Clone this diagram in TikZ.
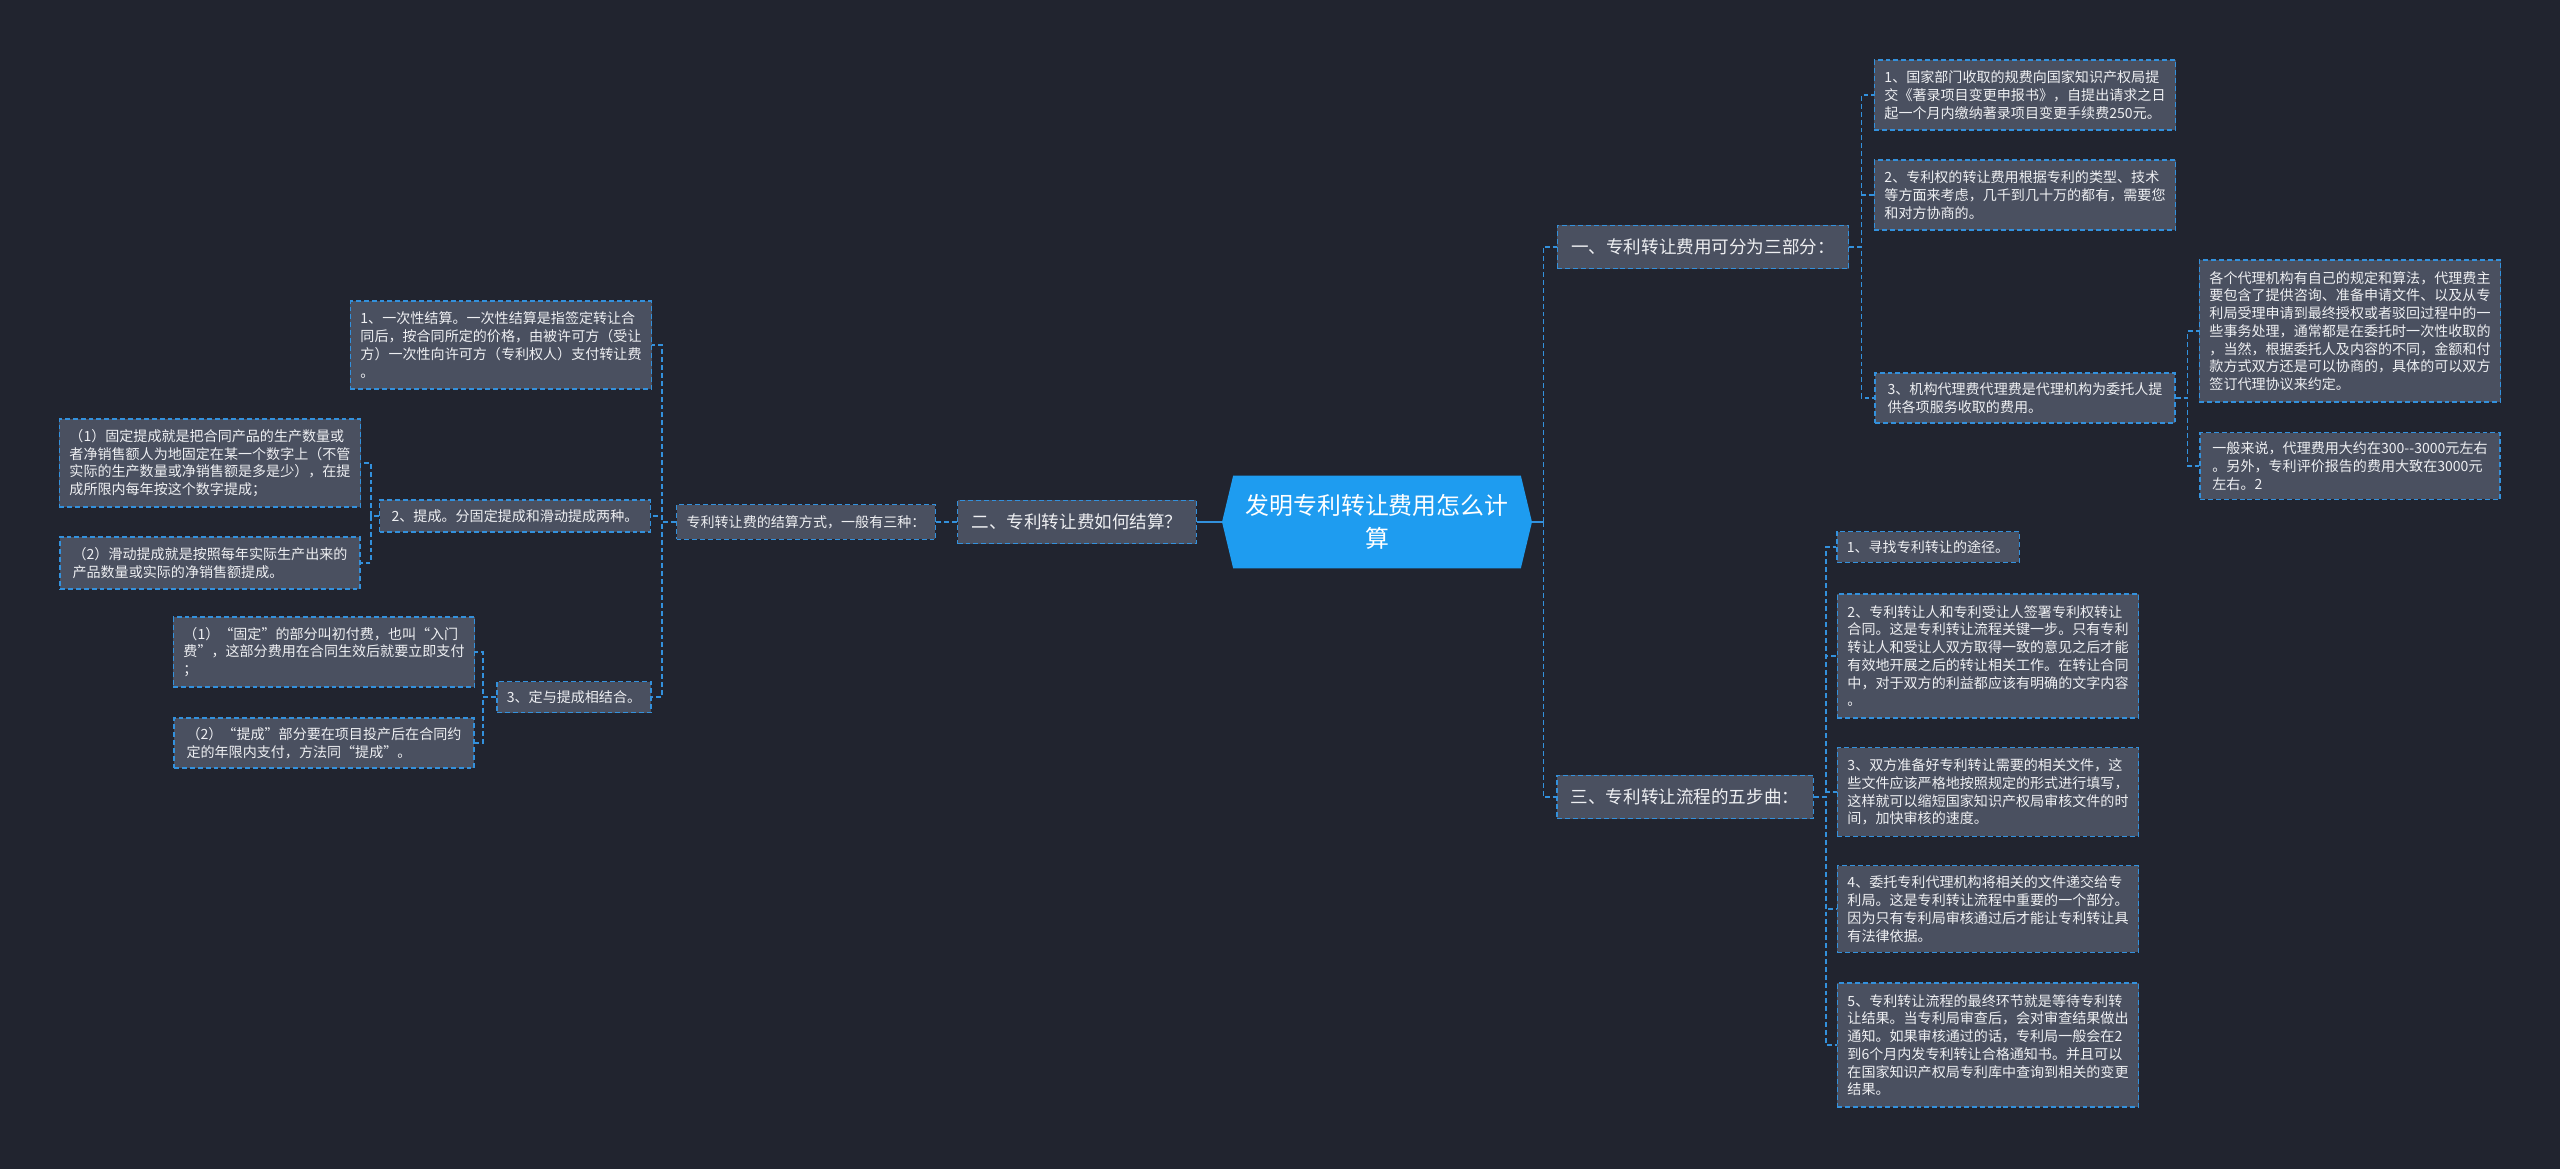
\documentclass[tikz,border=0pt]{standalone}
\usepackage{fontspec}
\usepackage{tikz}
\usetikzlibrary{shapes.symbols}
\newfontfamily\cjk{Noto Sans CJK SC}
\definecolor{bg}{HTML}{21242F}
\definecolor{boxfill}{HTML}{4A5060}
\definecolor{wire}{HTML}{3391DD}
\definecolor{rootfill}{HTML}{1E9CF0}
\definecolor{ink}{HTML}{EEEFF2}

\begin{document}
\begin{tikzpicture}[x=0.02cm,y=-0.02cm,
  leaf/.style={draw=wire,dash pattern=on 2.8pt off 1.7pt,line width=0.8pt,fill=boxfill,text=ink,
               font=\cjk\fontsize{8}{10.1}\selectfont,align=left,inner xsep=0.2cm,inner ysep=0.1cm},
  branch/.style={leaf,font=\cjk\fontsize{10}{12}\selectfont,inner xsep=0.28cm,minimum height=0.87cm},
  root/.style={shape=signal,signal to=west and east,signal pointer angle=153,fill=rootfill,text=white,
               font=\cjk\fontsize{13.6}{18.8}\selectfont,align=center,minimum width=6.2cm,minimum height=1.86cm},
  lnk/.style={wire,dash pattern=on 2.8pt off 1.7pt,line width=0.8pt},
  trunk/.style={wire,line width=1pt}
]
\fill[bg] (0,0) rectangle (2560,1169);

% center
\node[root] (root) at (1377,522) {发明专利转让费用怎么计\\算};

% right: three parts
\node[branch] (one) at (1703,247) {一、专利转让费用可分为三部分：};
\node[leaf,minimum width=6cm,minimum height=1.4cm] (c1) at (2025,95)
  {1、国家部门收取的规费向国家知识产权局提\\交《著录项目变更申报书》，自提出请求之日\\起一个月内缴纳著录项目变更手续费250元。};
\node[leaf,minimum width=6cm,minimum height=1.4cm] (c2) at (2025,195)
  {2、专利权的转让费用根据专利的类型、技术\\等方面来考虑，几千到几十万的都有，需要您\\和对方协商的。};
\node[leaf,minimum width=6cm,minimum height=1cm] (c3) at (2025,398)
  {3、机构代理费代理费是代理机构为委托人提\\供各项服务收取的费用。};
\node[leaf,minimum width=6cm,minimum height=2.84cm] (ca) at (2350,331)
  {各个代理机构有自己的规定和算法，代理费主\\要包含了提供咨询、准备申请文件、以及从专\\利局受理申请到最终授权或者驳回过程中的一\\些事务处理，通常都是在委托时一次性收取的\\，当然，根据委托人及内容的不同，金额和付\\款方式双方还是可以协商的，具体的可以双方\\签订代理协议来约定。};
\node[leaf,minimum width=6cm,minimum height=1.34cm] (cb) at (2350,466)
  {一般来说，代理费用大约在300-{}-3000元左右\\。另外，专利评价报告的费用大致在3000元\\左右。2};

% right: five steps
\node[branch] (three) at (1685,797) {三、专利转让流程的五步曲：};
\node[leaf,minimum width=3.6cm,minimum height=0.62cm] (s1) at (1928,547) {1、寻找专利转让的途径。};
\node[leaf,minimum width=6cm,minimum height=2.48cm] (s2) at (1988,656)
  {2、专利转让人和专利受让人签署专利权转让\\合同。这是专利转让流程关键一步。只有专利\\转让人和受让人双方取得一致的意见之后才能\\有效地开展之后的转让相关工作。在转让合同\\中，对于双方的利益都应该有明确的文字内容\\。};
\node[leaf,minimum width=6cm,minimum height=1.78cm] (s3) at (1988,792)
  {3、双方准备好专利转让需要的相关文件，这\\些文件应该严格地按照规定的形式进行填写，\\这样就可以缩短国家知识产权局审核文件的时\\间，加快审核的速度。};
\node[leaf,minimum width=6cm,minimum height=1.74cm] (s4) at (1988,909)
  {4、委托专利代理机构将相关的文件递交给专\\利局。这是专利转让流程中重要的一个部分。\\因为只有专利局审核通过后才能让专利转让具\\有法律依据。};
\node[leaf,minimum width=6cm,minimum height=2.48cm] (s5) at (1988,1045)
  {5、专利转让流程的最终环节就是等待专利转\\让结果。当专利局审查后，会对审查结果做出\\通知。如果审核通过的话，专利局一般会在2\\到6个月内发专利转让合格通知书。并且可以\\在国家知识产权局专利库中查询到相关的变更\\结果。};

% left: settlement
\node[branch] (two) at (1077,522) {二、专利转让费如何结算？};
\node[leaf,minimum width=5.16cm,minimum height=0.7cm] (mid) at (806,522) {专利转让费的结算方式，一般有三种：};
\node[leaf,minimum width=6.02cm,minimum height=1.76cm] (l1) at (501,345)
  {1、一次性结算。一次性结算是指签定转让合\\同后，按合同所定的价格，由被许可方（受让\\方）一次性向许可方（专利权人）支付转让费\\。};
\node[leaf,minimum width=5.42cm,minimum height=0.64cm] (l2) at (515,516) {2、提成。分固定提成和滑动提成两种。};
\node[leaf,minimum width=3.04cm,minimum height=0.62cm] (l3) at (574,697) {3、定与提成相结合。};
\node[leaf,minimum width=6cm,minimum height=1.76cm] (l2a) at (210,463)
  {（1）固定提成就是把合同产品的生产数量或\\者净销售额人为地固定在某一个数字上（不管\\实际的生产数量或净销售额是多是少），在提\\成所限内每年按这个数字提成；};
\node[leaf,minimum width=6cm,minimum height=1.04cm] (l2b) at (210,563)
  {（2）滑动提成就是按照每年实际生产出来的\\产品数量或实际的净销售额提成。};
\node[leaf,minimum width=6cm,minimum height=1.4cm] (l3a) at (324,652)
  {（1）“固定”的部分叫初付费，也叫“入门\\费”，这部分费用在合同生效后就要立即支付\\；};
\node[leaf,minimum width=6cm,minimum height=1cm] (l3b) at (324,743)
  {（2）“提成”部分要在项目投产后在合同约\\定的年限内支付，方法同“提成”。};

% connectors
\draw[trunk] (root.east) -- ++(0.22cm,0) coordinate (rj);
\foreach \n in {one,three} \draw[lnk] (rj) |- (\n.west);
\foreach \n in {c1,c2,c3} \draw[lnk] (one.east) -- ++(0.24cm,0) |- (\n.west);
\foreach \n in {ca,cb} \draw[lnk] (c3.east) -- ++(0.24cm,0) |- (\n.west);
\foreach \n in {s1,s2,s3,s4,s5} \draw[lnk] (three.east) -- ++(0.24cm,0) |- (\n.west);
\draw[trunk] (root.west) -- (two.east);
\draw[lnk] (two.west) -- (mid.east);
\foreach \n in {l1,l2,l3} \draw[lnk] (mid.west) -- ++(-0.28cm,0) |- (\n.east);
\foreach \n in {l2a,l2b} \draw[lnk] (l2.west) -- ++(-0.16cm,0) |- (\n.east);
\foreach \n in {l3a,l3b} \draw[lnk] (l3.west) -- ++(-0.26cm,0) |- (\n.east);
\end{tikzpicture}
\end{document}
